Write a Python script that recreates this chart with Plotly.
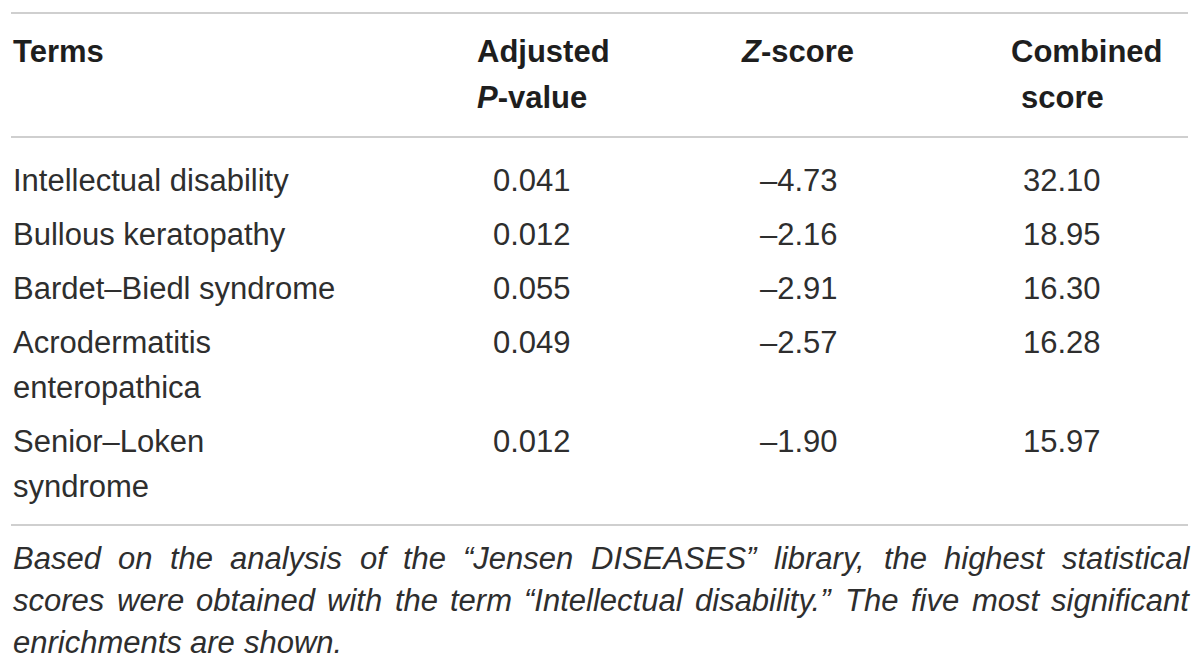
import plotly.graph_objects as go

# ---------------- data ----------------
header_cols = ["Terms", "Adjusted<br><i>P</i>-value", "<i>Z</i>-score", "Combined<br>score"]
terms = ["Intellectual disability", "Bullous keratopathy", "Bardet–Biedl syndrome",
         "Acrodermatitis<br>enteropathica", "Senior–Loken<br>syndrome"]
adj_p = [0.041, 0.012, 0.055, 0.049, 0.012]
z_score = [-4.73, -2.16, -2.91, -2.57, -1.90]
combined = [32.10, 18.95, 16.30, 16.28, 15.97]
caption = ("Based on the analysis of the “Jensen DISEASES” library, the highest statistical "
           "scores were obtained with the term “Intellectual disability.” The five most significant "
           "enrichments are shown.")

# ---------------- styling / layout ----------------
W, H = 1200, 667
FONT = "Liberation Sans, Arial, sans-serif"
FS = 31
TXT = "#2e2e2e"
HDR = "#1e1e1e"
RULE = "#cfcfcf"
LEFT, RIGHT = 11, 1188

# Arial / Liberation Sans advance widths (per 1000 em)
AW = {' ': 278, '.': 278, ',': 278, '“': 333, '”': 333, '-': 333, '–': 556}
for ch, w in zip("abcdefghijklmnopqrstuvwxyz",
                 [556, 556, 500, 556, 556, 278, 556, 556, 222, 222, 500, 222, 833,
                  556, 556, 556, 556, 333, 500, 278, 556, 500, 722, 500, 500, 500]):
    AW[ch] = w
for ch, w in zip("ABCDEFGHIJKLMNOPQRSTUVWXYZ",
                 [667, 667, 722, 722, 667, 611, 778, 722, 278, 500, 667, 556, 833,
                  722, 778, 667, 778, 722, 667, 611, 722, 667, 944, 667, 667, 611]):
    AW[ch] = w


def text_width(s, fs):
    return sum(AW.get(c, 556) for c in s) * fs / 1000.0


def fmt_neg(v):
    return ("–" if v < 0 else "") + f"{abs(v):.2f}"


fig = go.Figure()
annotations = []


def add_text(x, y, text, xanchor="left", size=FS, color=TXT):
    annotations.append(dict(x=x, y=y, xref="x", yref="y", text=text, showarrow=False,
                            xanchor=xanchor, yanchor="middle",
                            font=dict(family=FONT, size=size, color=color),
                            borderpad=0))


# rules
rule_y = [13, 137, 525]
shapes = [dict(type="line", xref="x", yref="y", x0=LEFT, x1=RIGHT, y0=yy, y1=yy,
               line=dict(color=RULE, width=2)) for yy in rule_y]

# header (x anchor, anchor mode) per column and line
hdr_line_y = [51, 97]
hdr_pos = [
    [(12, "left")],
    [(476, "left"), (476, "left")],
    [(797, "center")],
    [(1087, "center"), (1062, "center")],
]
for i, h in enumerate(header_cols):
    parts = h.split("<br>")
    for j, p in enumerate(parts):
        xl, anc = hdr_pos[i][j]
        add_text(xl, hdr_line_y[j], f"<b>{p}</b>", xanchor=anc, color=HDR)

# body
col_center = [532, 799, 1062]
first_y = 180
row_gap = 54
line_gap = 45
y = first_y
for r, term in enumerate(terms):
    lines = term.split("<br>")
    for j, ln in enumerate(lines):
        add_text(12, y + j * line_gap, ln)
    add_text(col_center[0], y, f"{adj_p[r]:.3f}", xanchor="center")
    add_text(col_center[1], y, fmt_neg(z_score[r]), xanchor="center")
    add_text(col_center[2], y, f"{combined[r]:.2f}", xanchor="center")
    y += row_gap + line_gap * (len(lines) - 1)

# caption: justified, word by word
cap_y0 = 558
cap_gap = 42
cap_left, cap_right = 12, 1188
words = caption.split(" ")
lines, cur = [], []
for w in words:
    trial = cur + [w]
    if text_width(" ".join(trial), FS) > cap_right - cap_left and cur:
        lines.append(cur)
        cur = [w]
    else:
        cur = trial
if cur:
    lines.append(cur)

for li, lw in enumerate(lines):
    yy = cap_y0 + li * cap_gap
    widths = [text_width(w, FS) for w in lw]
    if li < len(lines) - 1 and len(lw) > 1:
        gap = (cap_right - cap_left - sum(widths)) / (len(lw) - 1)
    else:
        gap = AW[' '] * FS / 1000.0
    x = cap_left
    for w, wd in zip(lw, widths):
        add_text(x, yy, f"<i>{w}</i>")
        x += wd + gap

fig.update_layout(
    width=W, height=H,
    margin=dict(l=0, r=0, t=0, b=0),
    paper_bgcolor="white", plot_bgcolor="white",
    xaxis=dict(range=[0, W], visible=False, fixedrange=True),
    yaxis=dict(range=[H, 0], visible=False, fixedrange=True),
    annotations=annotations, shapes=shapes, showlegend=False,
)

fig.write_html("out.html", config={"displayModeBar": False},
               post_script="document.body.style.margin='0';document.body.style.padding='0';")
